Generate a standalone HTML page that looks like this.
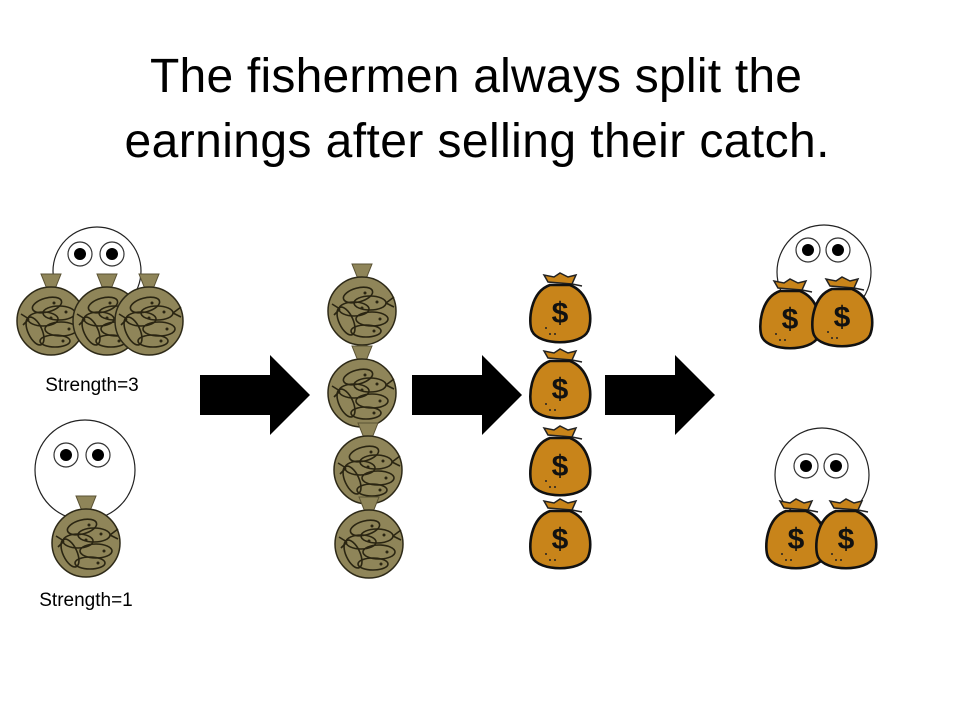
<!DOCTYPE html>
<html><head><style>
body{margin:0;background:#fff;}
svg{display:block}
</style></head><body>
<svg width="960" height="720" viewBox="0 0 960 720" xmlns="http://www.w3.org/2000/svg">
<defs>
<g id="coin">
  <polygon points="-10,-47 10,-47 4,-32 -4,-32" fill="#8f8559" stroke="#5a5234" stroke-width="1"/>
  <circle r="34" fill="#8f8559" stroke="#2e2a18" stroke-width="1.5"/>
  <g fill="none" stroke="#2a2512" stroke-width="1.6">
    <ellipse cx="-4" cy="-16" rx="15" ry="7" transform="rotate(-15 -4 -16)"/>
    <ellipse cx="8" cy="-8" rx="16" ry="7"/>
    <ellipse cx="-8" cy="-2" rx="15" ry="7"/>
    <ellipse cx="10" cy="8" rx="16" ry="7"/>
    <ellipse cx="4" cy="20" rx="15" ry="6"/>
    <ellipse cx="-16" cy="10" rx="7" ry="15" transform="rotate(-25 -16 10)"/>
    <path d="M24,-8 l8,-6 M24,-8 l8,4 M-22,-2 l-8,-5 M-22,-2 l-6,6"/>
  </g>
  <g fill="#2a2512"><circle cx="3" cy="-18" r="1.5"/><circle cx="15" cy="-9" r="1.5"/><circle cx="0" cy="-3" r="1.5"/><circle cx="18" cy="8" r="1.5"/><circle cx="12" cy="20" r="1.5"/></g>
</g>
<g id="bag">
  <path d="M-12,-30 L-16,-37 L-6,-35 L0,-39 L8,-35 L16,-37 L12,-28 Z" fill="#c8841a" stroke="#222" stroke-width="1.5"/>
  <path d="M12,-28 l10,2" stroke="#222" stroke-width="1.5"/>
  <path d="M-10,-27 C-30,-20 -32,10 -28,19 C-21,34 21,34 28,19 C34,4 28,-20 10,-27 Z" fill="#c8841a" stroke="#111" stroke-width="2.6"/>
  <text x="0" y="11" font-family="Liberation Sans, sans-serif" font-size="30" font-weight="bold" text-anchor="middle" fill="#111">$</text>
  <g fill="#222"><circle cx="-14" cy="16" r="1"/><circle cx="-10" cy="22" r="1"/><circle cx="-5" cy="22" r="1"/></g>
</g>
<g id="eye"><circle r="12" fill="#fff" stroke="#333" stroke-width="1.2"/><circle r="6" fill="#000"/></g>
<g id="arrow"><polygon points="0,20 70,20 70,0 110,40 70,80 70,60 0,60" fill="#000"/></g>
</defs>

<text x="476" y="92" font-family="Liberation Sans, sans-serif" font-size="48" text-anchor="middle" fill="#000" textLength="652">The fishermen always split the</text>
<text x="477" y="157" font-family="Liberation Sans, sans-serif" font-size="48" text-anchor="middle" fill="#000" textLength="705">earnings after selling their catch.</text>

<circle cx="97" cy="271" r="44" fill="#fff" stroke="#222" stroke-width="1.2"/>
<use href="#eye" x="80" y="254"/><use href="#eye" x="112" y="254"/>
<use href="#coin" x="51" y="321"/>
<use href="#coin" x="107" y="321"/>
<use href="#coin" x="149" y="321"/>
<text x="92" y="391" font-family="Liberation Sans, sans-serif" font-size="19" text-anchor="middle">Strength=3</text>

<circle cx="85" cy="470" r="50" fill="#fff" stroke="#222" stroke-width="1.2"/>
<use href="#eye" x="66" y="455"/><use href="#eye" x="98" y="455"/>
<use href="#coin" x="86" y="543"/>
<text x="86" y="606" font-family="Liberation Sans, sans-serif" font-size="19" text-anchor="middle">Strength=1</text>

<use href="#arrow" x="200" y="355"/>
<use href="#arrow" x="412" y="355"/>
<use href="#arrow" x="605" y="355"/>

<use href="#coin" x="362" y="311"/>
<use href="#coin" x="362" y="393"/>
<use href="#coin" x="368" y="470"/>
<use href="#coin" x="369" y="544"/>

<use href="#bag" x="560" y="312"/>
<use href="#bag" x="560" y="388"/>
<use href="#bag" x="560" y="465"/>
<use href="#bag" x="560" y="538"/>

<circle cx="824" cy="272" r="47" fill="#fff" stroke="#222" stroke-width="1.2"/>
<use href="#eye" x="808" y="250"/><use href="#eye" x="838" y="250"/>
<use href="#bag" x="790" y="318"/>
<use href="#bag" x="842" y="316"/>

<circle cx="822" cy="475" r="47" fill="#fff" stroke="#222" stroke-width="1.2"/>
<use href="#eye" x="806" y="466"/><use href="#eye" x="836" y="466"/>
<use href="#bag" x="796" y="538"/>
<use href="#bag" x="846" y="538"/>
</svg>
</body></html>
